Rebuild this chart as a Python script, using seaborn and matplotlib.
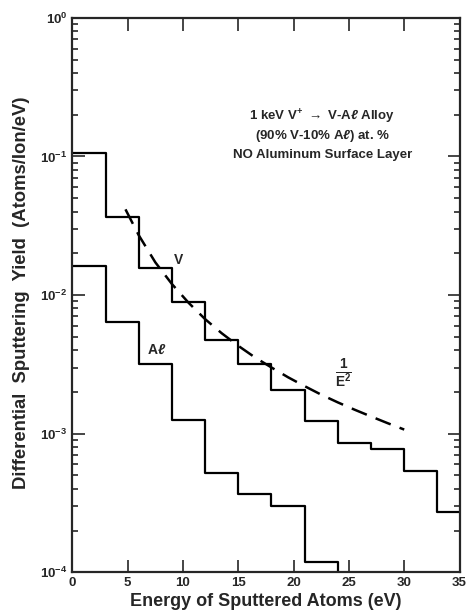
import numpy as np
import pandas as pd
import matplotlib
matplotlib.use("Agg")
import matplotlib.pyplot as plt
import seaborn as sns
from matplotlib.ticker import LogLocator, FixedLocator, NullFormatter

# ---- data ----
bin_edges = [0, 3, 6, 9, 12, 15, 18, 21, 24, 27, 30, 33, 35]
v_yield = [0.105, 0.0365, 0.0157, 0.0089, 0.0047, 0.0032, 0.00206, 0.00124,
           0.00085, 0.00077, 0.00054, 0.00027]
al_edges = [0, 3, 6, 9, 12, 15, 18, 21, 24, 27]
al_yield = [0.0162, 0.0064, 0.0032, 0.00126, 0.00052, 0.000364, 0.000303,
            0.000119, 0.00005]
e2_energy = [4.8, 6, 7.5, 9, 10.5, 12, 13.5, 15, 16.5, 18, 19.5, 21, 22.5,
             24, 25.5, 27, 28.5, 30]
e2_yield = [0.0415, 0.027, 0.0172, 0.0120, 0.0088, 0.0067, 0.0053, 0.0043,
            0.00355, 0.0030, 0.00255, 0.0022, 0.00191, 0.00168, 0.00149,
            0.00133, 0.00119, 0.00107]
x_ticks = [0, 5, 10, 15, 20, 25, 30, 35]

sns.set_style("ticks")
plt.rcParams['font.family'] = ['Liberation Sans', 'DejaVu Sans']
plt.rcParams['mathtext.fontset'] = 'custom'
plt.rcParams['mathtext.rm'] = 'Liberation Sans:bold'
plt.rcParams['mathtext.it'] = 'Liberation Sans:italic:bold'
plt.rcParams['mathtext.bf'] = 'Liberation Sans:bold'

fig = plt.figure(figsize=(4.67, 6.14), dpi=100)
ax = fig.add_axes([0.155, 0.068, 0.829, 0.903])

v_df = pd.DataFrame({"E": bin_edges, "Y": v_yield + [v_yield[-1]]})
al_df = pd.DataFrame({"E": al_edges, "Y": al_yield + [al_yield[-1]]})
e2_df = pd.DataFrame({"E": e2_energy, "Y": e2_yield})

sns.lineplot(data=v_df, x="E", y="Y", ax=ax, drawstyle="steps-post",
             color="black", lw=1.6, estimator=None, sort=False)
sns.lineplot(data=al_df, x="E", y="Y", ax=ax, drawstyle="steps-post",
             color="black", lw=1.6, estimator=None, sort=False)
sns.lineplot(data=e2_df, x="E", y="Y", ax=ax, color="black", lw=1.8,
             estimator=None, sort=False, dashes=False, linestyle=(0, (6.5, 3.8)))

ax.set_yscale("log")
ax.set_xlim(0, 35)
ax.set_ylim(1e-4, 1)
ax.xaxis.set_major_locator(FixedLocator(x_ticks))
ax.yaxis.set_major_locator(LogLocator(base=10, numticks=10))
ax.yaxis.set_minor_locator(LogLocator(base=10, subs=np.arange(2, 10), numticks=20))
ax.yaxis.set_minor_formatter(NullFormatter())
ax.tick_params(which="both", direction="in", top=True, right=True,
               labelsize=9.5, width=1.2)
ax.tick_params(which="major", length=9)
ax.tick_params(which="minor", length=4.5)
for lab in ax.get_xticklabels() + ax.get_yticklabels():
    lab.set_fontweight("bold")
for s in ax.spines.values():
    s.set_linewidth(1.6)

ax.set_xlabel("Energy of Sputtered Atoms (eV)", fontsize=13, fontweight="bold",
              labelpad=3)
ax.set_ylabel("Differential  Sputtering  Yield  (Atoms/Ion/eV)", fontsize=13.3,
              fontweight="bold", labelpad=0)
ax.yaxis.set_label_coords(-0.11, 0.505)

ax.text(22.6, 0.193, r"1 keV V$^{+}$ $\rightarrow$ V-A$\ell$ Alloy", ha="center",
        va="center", fontsize=9.5, fontweight="bold")
ax.text(22.6, 0.1406, r"(90% V-10% A$\ell$) at. %", ha="center", va="center",
        fontsize=9.5, fontweight="bold")
ax.text(22.6, 0.1025, "NO Aluminum Surface Layer", ha="center", va="center",
        fontsize=9.5, fontweight="bold")
ax.text(9.6, 0.0178, "V", ha="center", va="center", fontsize=10, fontweight="bold")
ax.text(7.6, 0.0040, r"A$\ell$", ha="center", va="center", fontsize=10,
        fontweight="bold")
ax.text(24.5, 0.00269, r"$\frac{1}{\mathrm{E}^2}$", ha="center", va="center",
        fontsize=14)

fig.savefig("out.png", dpi=100)
